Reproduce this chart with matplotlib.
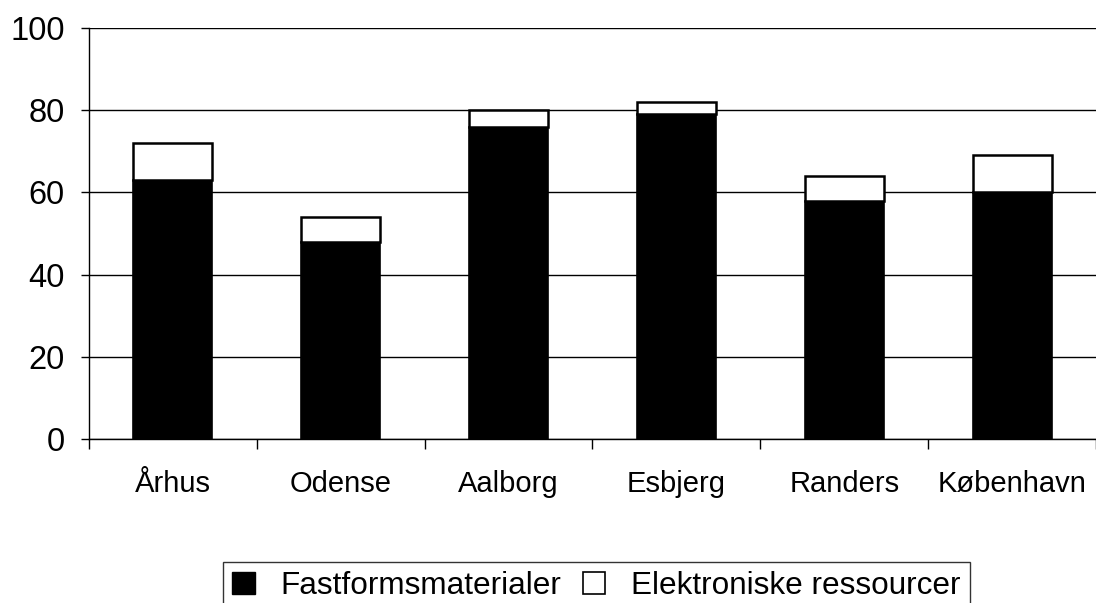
import numpy as np
import matplotlib
matplotlib.use('Agg')
import matplotlib.pyplot as plot
from matplotlib.patches import Patch

plot.rcParams['font.family'] = ['Liberation Sans', 'DejaVu Sans']

# data
byer = ['Århus', 'Odense', 'Aalborg', 'Esbjerg', 'Randers', 'København']
fastform = [63, 48, 76, 79, 58, 60]
elektronisk = [9, 6, 4, 3, 6, 9]
serier = ['Fastformsmaterialer', 'Elektroniske ressourcer']
yticks = [0, 20, 40, 60, 80, 100]

fig = plot.figure(figsize=(10.96, 6.03), dpi=100)
ax = fig.add_axes([89 / 1096., 1 - 439 / 603., 1 - 89 / 1096., (439 - 28) / 603.])

x = np.arange(len(byer))
bw = 0.47
ax.bar(x, fastform, bw, color='black', edgecolor='black', linewidth=1.2, zorder=3)
ax.bar(x, elektronisk, bw, bottom=fastform, color='white', edgecolor='black', linewidth=1.8, zorder=3)

ax.set_xlim(-0.5, len(byer) - 0.5)
ax.set_ylim(0, 100)
ax.set_yticks(yticks)
ax.set_yticklabels([str(v) for v in yticks], fontsize=23.5)
ax.yaxis.grid(True, color='black', linewidth=1.0)
ax.set_axisbelow(True)

# category ticks sit on the boundaries, labels in the middle
ax.set_xticks(np.arange(len(byer) + 1) - 0.5)
ax.set_xticklabels([])
ax.set_xticks(x, minor=True)
ax.set_xticklabels(byer, minor=True, fontsize=21)
ax.tick_params(axis='x', which='major', length=7, width=1, direction='out', color='black')
ax.tick_params(axis='x', which='minor', length=0, pad=22)
ax.tick_params(axis='y', length=6, width=1, direction='out', pad=11.5)

for s in ['top', 'right']:
    ax.spines[s].set_visible(False)
ax.spines['left'].set_linewidth(1.0)
ax.spines['bottom'].set_linewidth(1.0)

handles = [Patch(facecolor='black', edgecolor='black', linewidth=1),
           Patch(facecolor='white', edgecolor='black', linewidth=1.2)]
leg = fig.legend(handles, serier, loc='upper left', bbox_to_anchor=(223 / 1096., 1 - 562 / 603.),
                 ncol=2, fontsize=22.7, frameon=True, fancybox=False, edgecolor='black',
                 handlelength=0.7, handleheight=0.7, handletextpad=0.83, columnspacing=0.67,
                 borderpad=0.3, borderaxespad=0)
leg.get_frame().set_linewidth(1.0)

plot.savefig('out.png', dpi=100)
plot.close()
